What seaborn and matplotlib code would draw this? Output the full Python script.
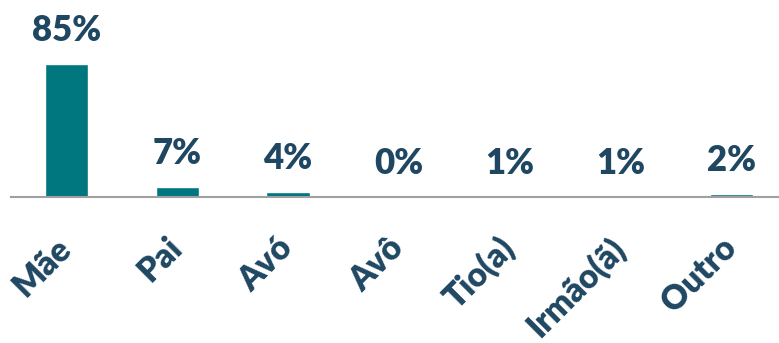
import matplotlib
matplotlib.use("Agg")
import matplotlib.pyplot as plt
import seaborn as sns
import pandas as pd

categories = ["Mãe", "Pai", "Avó", "Avô", "Tio(a)", "Irmão(ã)", "Outro"]
values = [85, 6.5, 3.5, 0, 0.5, 0.1, 2.2]
labels = ["85%", "7%", "4%", "0%", "1%", "1%", "2%"]

sns.set_style("white")
plt.rcParams["font.family"] = ["Lato", "DejaVu Sans"]

bar_color = "#00767F"
text_color = "#1F4762"

fig = plt.figure(figsize=(7.79, 3.43), dpi=100)
ax = fig.add_axes([11 / 779, 146 / 343, 1 - 11 / 779, 197 / 343])

df = pd.DataFrame({"cat": categories, "val": values})
sns.barplot(data=df, x="cat", y="val", color=bar_color, width=0.39,
            saturation=1, ax=ax)

ax.set_ylim(0, 85 * 197 / 133)
ax.set_xlim(-0.5, 6.43)
for s in ["top", "right", "left"]:
    ax.spines[s].set_visible(False)
ax.spines["bottom"].set_color("#A0A0A0")
ax.spines["bottom"].set_linewidth(1.5)
ax.set_yticks([])
ax.set_xlabel("")
ax.set_ylabel("")
ax.tick_params(axis="x", length=0, pad=33)

for i, (v, lab) in enumerate(zip(values, labels)):
    ax.annotate(lab, (i, v), xytext=(0, 12), textcoords="offset points",
                ha="center", va="bottom", fontsize=25, fontweight="heavy",
                color=text_color)

ax.set_xticks(range(len(categories)))
ax.set_xticklabels(categories, rotation=45, ha="right", va="center",
                   rotation_mode="anchor",
                   fontsize=24, fontweight="heavy", color=text_color)

fig.savefig("out.png", dpi=100)
